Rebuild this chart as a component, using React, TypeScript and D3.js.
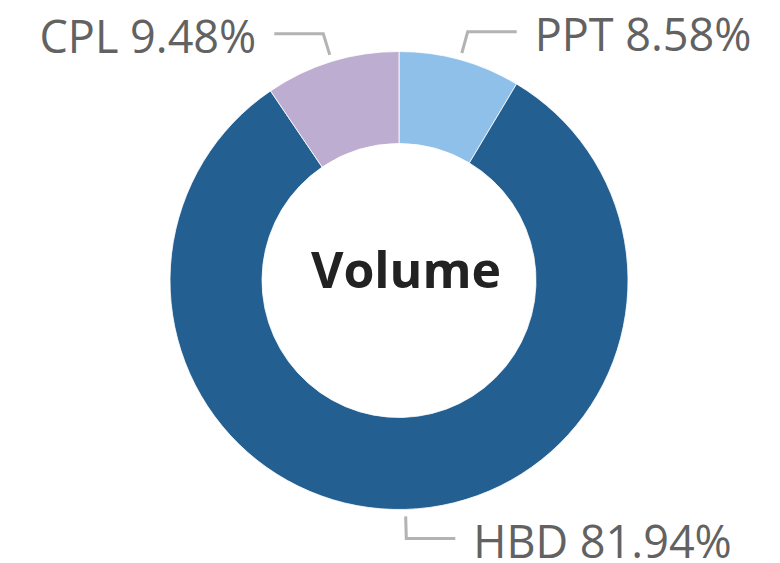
import React from "react";
import * as d3 from "d3";

const categories = ["PPT", "HBD", "CPL"];
const values = [8.58, 81.94, 9.48];
const colors = ["#8EC0EA", "#245F92", "#BDAED1"];
const title = "Volume";

const W = 780;
const H = 563;
const cx = 399;
const cy = 280.5;
const outerR = 229;
const innerR = 137;
const len1Start = 7;
const len1End = 29;
const len2 = 49;
const gap = 18;

export default function App() {
  const pie = d3.pie<number>().value((d) => d).sort(null);
  const arcs = pie(values);
  const arcGen = d3.arc<d3.PieArcDatum<number>>().innerRadius(innerR).outerRadius(outerR);

  return (
    <svg width={W} height={H} style={{ position: "absolute", left: 0, top: 0 }}>
      <rect width={W} height={H} fill="#ffffff" />
      <g transform={`translate(${cx},${cy})`}>
        {arcs.map((a, i) => (
          <path key={categories[i]} d={arcGen(a) || ""} fill={colors[i]} stroke="#ffffff" strokeWidth={0.8} />
        ))}
        {arcs.map((a, i) => {
          const mid = (a.startAngle + a.endAngle) / 2;
          const sx = Math.sin(mid), sy = -Math.cos(mid);
          const p0 = [sx * (outerR + len1Start), sy * (outerR + len1Start)];
          const p1 = [sx * (outerR + len1End), sy * (outerR + len1End)];
          const dir = sx >= 0 ? 1 : -1;
          const p2 = [p1[0] + dir * len2, p1[1]];
          const tx = p2[0] + dir * gap;
          return (
            <g key={"l" + i}>
              <polyline
                points={`${p0[0]},${p0[1]} ${p1[0]},${p1[1]} ${p2[0]},${p2[1]}`}
                fill="none"
                stroke="#B3B3B3"
                strokeWidth={3}
                strokeLinejoin="miter"
              />
              <text
                x={tx}
                y={p1[1]}
                dy="0.43em"
                textAnchor={dir > 0 ? "start" : "end"}
                fontFamily="'Open Sans', 'Noto Sans', sans-serif"
                fontSize={45}
                fill="#626262"
              >
                {`${categories[i]} ${values[i].toFixed(2)}%`}
              </text>
            </g>
          );
        })}
        <text
          x={7}
          y={7}
          textAnchor="middle"
          fontFamily="'Open Sans', 'Noto Sans', sans-serif"
          fontWeight="bold"
          fontSize={50}
          fill="#222222"
        >
          {title}
        </text>
      </g>
    </svg>
  );
}
